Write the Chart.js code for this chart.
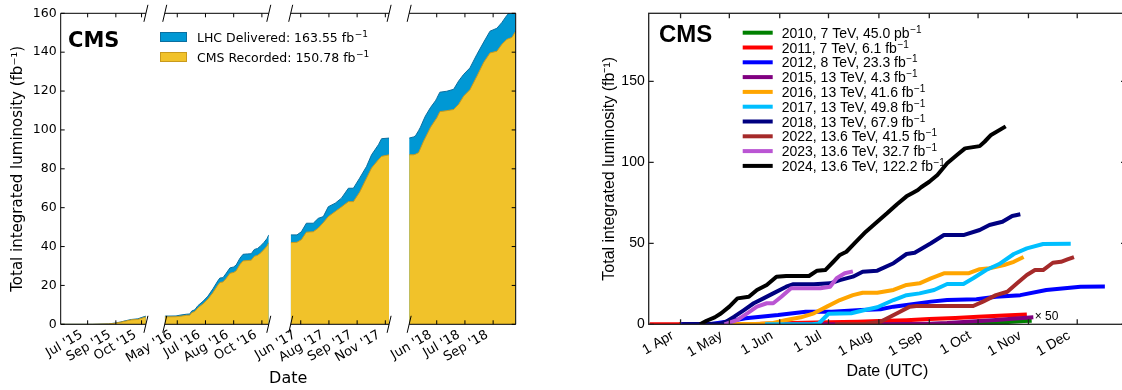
<!DOCTYPE html>
<html lang="en">
<head>
<meta charset="UTF-8" />
<title>CMS integrated luminosity</title>
<script src="https://cdn.jsdelivr.net/npm/chart.js@4.4.1/dist/chart.umd.min.js"></script>
<style>
  html, body { margin: 0; padding: 0; background: #fff; overflow: hidden; }
  #wrap { position: relative; width: 1122px; height: 390px; overflow: hidden; }
  #run2 { position: absolute; left: 0; top: 0; }
  #years { position: absolute; left: 560px; top: 0; }
</style>
</head>
<body>
<div id="wrap">
  <canvas id="run2" width="540" height="390"></canvas>
  <canvas id="years" width="580" height="390"></canvas>
</div>
<script>
// ---------- left panel: Run 2 cumulative (day of year per year segment) ----------
const days2015 = [169, 220, 245, 255, 265, 272, 282, 292, 300, 305];
const delivered2015 = [0, 0, 0.2, 0.6, 1.2, 1.8, 2.5, 2.8, 3.7, 4.2];
const recorded2015 = [0, 0, 0.2, 0.5, 1.1, 1.6, 2.3, 2.5, 3.3, 3.8];

const days2016 = [120, 138, 146, 155, 160, 163, 168, 173, 181, 189, 197, 205, 208, 213, 218, 224, 230, 234, 240, 245, 252, 258, 263, 268, 272, 278, 283, 286];
const delivered2016 = [4.2, 4.3, 4.8, 5.2, 5.3, 6.8, 7.5, 9.6, 11.8, 14.5, 18.3, 22.5, 23.8, 24.0, 26.2, 29.0, 29.5, 30.5, 34.0, 36.0, 36.2, 36.3, 38.5, 39.0, 40.0, 42.0, 44.0, 46.0];
const recorded2016 = [3.8, 3.9, 4.2, 4.6, 4.7, 6.0, 6.6, 8.5, 10.5, 13.0, 16.4, 20.3, 21.5, 21.8, 23.6, 26.2, 26.7, 27.5, 30.8, 32.6, 32.8, 33.0, 35.0, 35.5, 36.4, 38.3, 40.2, 42.0];

const days2017 = [155, 165, 172, 180, 191, 199, 207, 215, 226, 236, 247, 255, 265, 276, 284, 295, 300, 312];
const delivered2017 = [46.0, 46.0, 47.6, 52.0, 52.0, 54.5, 55.4, 60.5, 62.3, 64.9, 70.0, 70.0, 75.2, 81.2, 87.2, 92.4, 95.5, 95.8];
const recorded2017 = [42.0, 42.2, 43.5, 47.4, 47.6, 49.5, 52.3, 55.4, 58.0, 60.4, 63.1, 63.1, 68.0, 75.2, 80.4, 84.7, 86.4, 87.2];

const days2018 = [117, 124, 127, 132, 135, 140, 143, 151, 159, 161, 166, 177, 188, 196, 204, 214, 225, 236, 246, 257, 265, 273, 281, 287];
const delivered2018 = [95.8, 96.4, 96.9, 99.6, 101.4, 105.1, 107.2, 111.5, 115.0, 116.2, 119.4, 119.9, 120.9, 125.2, 128.6, 131.9, 138.8, 145.2, 150.8, 152.3, 155.3, 159.0, 161.5, 163.55];
const recorded2018 = [87.2, 87.2, 87.5, 88.3, 90.5, 94.2, 96.1, 101.3, 105.2, 106.1, 109.4, 109.9, 110.5, 113.2, 117.4, 120.7, 127.6, 134.8, 139.6, 140.5, 144.1, 146.6, 147.6, 150.78];

const tickDays2015 = [212, 257, 298];
const tickLabels2015 = ["Jul '15", "Sep '15", "Oct '15"];
const tickDays2016 = [140, 185, 230, 275];
const tickLabels2016 = ["May '16", "Jul '16", "Aug '16", "Oct '16"];
const tickDays2017 = [171, 216, 261, 306];
const tickLabels2017 = ["Jun '17", "Aug '17", "Sep '17", "Nov '17"];
const tickDays2018 = [161, 206, 251];
const tickLabels2018 = ["Jun '18", "Jul '18", "Sep '18"];

const run2Legend = ['LHC Delivered: 163.55 fb⁻¹', 'CMS Recorded: 150.78 fb⁻¹'];

// ---------- right panel: per-year cumulative delivered (day of year) ----------
const days2010 = [90, 150, 180, 213, 244, 258, 274, 285, 295, 302, 307];
const lumi2010x50 = [0, 0.01, 0.03, 0.1, 0.2, 0.3, 0.45, 0.9, 1.5, 2.0, 2.25]; // already scaled x50
const days2011 = [72, 100, 130, 150, 160, 182, 200, 213, 230, 244, 260, 274, 290, 304];
const lumi2011 = [0, 0, 0.1, 0.5, 0.8, 1.2, 1.6, 2.0, 2.5, 3.2, 3.9, 4.7, 5.5, 6.1];
const days2012 = [91, 110, 119, 131, 151, 168, 184, 202, 214, 222, 230, 245, 255, 273, 285, 300, 316, 337, 352];
const lumi2012 = [0, 0.2, 1.6, 3.7, 5.7, 7.8, 7.8, 8.8, 9.3, 10.9, 11.9, 14.0, 15.0, 15.4, 17.0, 18.0, 21.2, 23.2, 23.3];
const days2015r = [155, 190, 213, 230, 244, 255, 265, 275, 285, 295, 308];
const lumi2015 = [0, 0.05, 0.1, 0.2, 0.4, 0.8, 1.4, 2.0, 2.6, 3.4, 4.3];
const days2016r = [115, 140, 148, 156, 165, 173, 181, 189, 197, 203, 212, 222, 230, 238, 245, 253, 268, 275, 281, 290, 296, 302];
const lumi2016 = [0, 0.3, 0.8, 2.7, 4.3, 6.8, 10.9, 15.0, 18.0, 19.5, 19.5, 21.2, 24.3, 25.3, 28.4, 31.5, 31.5, 34.0, 34.6, 36.6, 38.6, 41.6];
const days2017r = [143, 172, 176, 182, 196, 203, 212, 222, 230, 238, 247, 255, 265, 271, 279, 287, 296, 304, 314, 331];
const lumi2017 = [0, 0, 0.5, 6.5, 6.8, 8.5, 10.5, 15.0, 18.0, 19.1, 21.2, 24.9, 24.9, 28.4, 33.5, 37.2, 43.4, 46.9, 49.6, 49.8];
const days2018r = [92, 115, 119, 124, 130, 136, 142, 148, 156, 160, 173, 183, 189, 197, 203, 212, 222, 230, 235, 245, 253, 265, 275, 281, 289, 295, 300];
const lumi2018 = [0, 0.3, 1.6, 4.7, 8.8, 13.0, 16.0, 19.1, 23.2, 24.7, 24.7, 25.3, 27.3, 29.4, 32.5, 33.1, 37.7, 43.4, 44.2, 50.0, 55.1, 55.1, 58.2, 61.3, 63.3, 66.9, 67.9];
const days2022r = [186, 205, 214, 220, 226, 232, 236, 271, 277, 285, 292, 298, 304, 309, 314, 320, 325, 329, 333];
const lumi2022 = [0, 0.3, 1.6, 4.7, 7.8, 10.9, 11.3, 11.3, 14.0, 18.0, 20.1, 25.3, 30.4, 33.5, 33.5, 38.0, 38.6, 40.1, 41.5];
const days2023r = [118, 126, 132, 138, 144, 148, 153, 159, 177, 183, 187, 192, 197];
const lumi2023 = [0, 2.7, 6.8, 10.9, 13.0, 13.0, 17.0, 22.2, 22.2, 23.2, 28.4, 31.5, 32.7];
const days2024r = [103, 107, 112, 116, 121, 126, 133, 138, 144, 150, 156, 170, 175, 180, 185, 189, 193, 199, 205, 212, 218, 224, 230, 234, 237, 239, 244, 249, 255, 261, 266, 275, 278, 282, 291];
const lumi2024 = [0, 2.2, 4.3, 6.8, 10.9, 16.0, 17.0, 21.2, 24.3, 29.4, 29.8, 29.8, 33.1, 33.5, 38.6, 42.8, 44.8, 51.0, 57.2, 63.3, 68.5, 74.0, 79.0, 81.2, 82.9, 84.6, 88.0, 92.2, 99.4, 104.5, 108.6, 110.0, 112.7, 116.9, 122.2];

const yearLabels = [
  '2010, 7 TeV, 45.0 pb⁻¹', '2011, 7 TeV, 6.1 fb⁻¹', '2012, 8 TeV, 23.3 fb⁻¹',
  '2015, 13 TeV, 4.3 fb⁻¹', '2016, 13 TeV, 41.6 fb⁻¹', '2017, 13 TeV, 49.8 fb⁻¹',
  '2018, 13 TeV, 67.9 fb⁻¹', '2022, 13.6 TeV, 41.5 fb⁻¹', '2023, 13.6 TeV, 32.7 fb⁻¹',
  '2024, 13.6 TeV, 122.2 fb⁻¹'
];
const yearDays = [days2010, days2011, days2012, days2015r, days2016r, days2017r, days2018r, days2022r, days2023r, days2024r];
const yearLumi = [lumi2010x50, lumi2011, lumi2012, lumi2015, lumi2016, lumi2017, lumi2018, lumi2022, lumi2023, lumi2024];
const yearColors = ['#008000', '#ff0000', '#0000ff', '#800080', '#ffa500', '#00bfff', '#000080', '#a52a2a', '#ba55d3', '#000000'];

const monthDays = [91, 121, 152, 182, 213, 244, 274, 305, 335];
const monthLabels = ['1 Apr', '1 May', '1 Jun', '1 Jul', '1 Aug', '1 Sep', '1 Oct', '1 Nov', '1 Dec'];

// ---------- helpers ----------
function toPoints(xs, ys) {
  return xs.map((x, i) => ({ x: x, y: ys[i] }));
}

function drawSup(ctx, text, x, y, size, family, rise) {
  const base = text.replace('⁻¹', '');
  ctx.font = size + 'px ' + family;
  ctx.fillText(base, x, y);
  if (text.indexOf('⁻¹') >= 0) {
    const w = ctx.measureText(base).width;
    ctx.font = Math.round(size * 0.7) + 'px ' + family;
    ctx.fillText('−1', x + w + 0.5, y - rise);
  }
}

const DV = "'DejaVu Sans'";
const LS = "'Liberation Sans'";
const BLUE = '#0098d4', BLUE_EDGE = '#0a6fa0';
const YELLOW = '#f1c22a', YELLOW_EDGE = '#c99a1c';

// ---------- left chart ----------
const segments = [
  { id: 'x2015', days: days2015, del: delivered2015, rec: recorded2015, min: 169, max: 305, ticks: tickDays2015, labels: tickLabels2015 },
  { id: 'x2016', days: days2016, del: delivered2016, rec: recorded2016, min: 120, max: 286, ticks: tickDays2016, labels: tickLabels2016 },
  { id: 'x2017', days: days2017, del: delivered2017, rec: recorded2017, min: 155, max: 312, ticks: tickDays2017, labels: tickLabels2017 },
  { id: 'x2018', days: days2018, del: delivered2018, rec: recorded2018, min: 117, max: 287, ticks: tickDays2018, labels: tickLabels2018 }
];
const gapWeights = [30, 35, 32];

const leftDatasets = [];
segments.forEach(function (s) {
  leftDatasets.push({
    label: 'CMS Recorded', xAxisID: s.id, yAxisID: 'y', order: 1,
    data: toPoints(s.days, s.rec), fill: 'origin',
    backgroundColor: YELLOW, borderColor: YELLOW_EDGE, borderWidth: 1
  });
  leftDatasets.push({
    label: 'LHC Delivered', xAxisID: s.id, yAxisID: 'y', order: 2,
    data: toPoints(s.days, s.del), fill: 'origin',
    backgroundColor: BLUE, borderColor: BLUE_EDGE, borderWidth: 1
  });
});

const leftScales = {
  y: {
    type: 'linear', position: 'left', min: 0, max: 160,
    ticks: { stepSize: 20, color: '#000', font: { family: DV, size: 12.5 }, padding: 4 },
    grid: { display: false, drawTicks: false },
    border: { display: false },
    title: { display: true, text: 'Total integrated luminosity (fb⁻¹)', color: '#000',
             font: { family: DV, size: 15 }, padding: { top: 9, bottom: 0 } },
    afterFit: function (s) { s.width = 60.7; }
  }
};
segments.forEach(function (s, i) {
  leftScales[s.id] = {
    type: 'linear', axis: 'x', position: 'bottom', stack: 'run2', stackWeight: s.max - s.min,
    min: s.min, max: s.max,
    afterBuildTicks: function (sc) { sc.ticks = s.ticks.map(function (v) { return { value: v }; }); },
    ticks: { autoSkip: false, minRotation: 30, maxRotation: 30, padding: 3, labelOffset: -6,
             color: '#000', font: { family: DV, size: 13 },
             callback: function (v, idx) { return s.labels[idx]; } },
    grid: { display: false, drawTicks: false },
    border: { display: false },
    afterFit: function (sc) { sc.height = 65.7; }
  };
  if (i < gapWeights.length) {
    leftScales['xgap' + i] = {
      type: 'linear', axis: 'x', position: 'bottom', stack: 'run2', stackWeight: gapWeights[i],
      min: 0, max: 1,
      ticks: { display: false },
      grid: { display: false, drawTicks: false },
      border: { display: false },
      afterFit: function (sc) { sc.height = 65.7; }
    };
  }
});

const brokenFrame = {
  id: 'brokenFrame',
  afterDraw: function (chart) {
    const ctx = chart.ctx, a = chart.chartArea, y = chart.scales.y;
    ctx.save();
    ctx.strokeStyle = '#000';
    ctx.lineWidth = 1;
    ctx.beginPath();
    ctx.moveTo(a.left, a.top); ctx.lineTo(a.left, a.bottom);
    ctx.moveTo(a.right, a.top); ctx.lineTo(a.right, a.bottom);
    y.ticks.forEach(function (t) {
      const py = y.getPixelForValue(t.value);
      ctx.moveTo(a.left, py); ctx.lineTo(a.left + 4, py);
      ctx.moveTo(a.right, py); ctx.lineTo(a.right - 4, py);
    });
    segments.forEach(function (s, i) {
      const sc = chart.scales[s.id];
      ctx.moveTo(sc.left, a.top); ctx.lineTo(sc.right, a.top);
      ctx.moveTo(sc.left, a.bottom); ctx.lineTo(sc.right, a.bottom);
      s.ticks.forEach(function (v) {
        const px = sc.getPixelForValue(v);
        ctx.moveTo(px, a.bottom); ctx.lineTo(px, a.bottom - 4);
        ctx.moveTo(px, a.top); ctx.lineTo(px, a.top + 4);
      });
      const ends = [];
      if (i > 0) ends.push(sc.left);
      if (i < segments.length - 1) ends.push(sc.right);
      ends.forEach(function (ex) {
        [a.top, a.bottom].forEach(function (ey) {
          ctx.moveTo(ex - 2, ey + 8.5); ctx.lineTo(ex + 2, ey - 8.5);
        });
      });
    });
    ctx.stroke();

    ctx.fillStyle = '#000';
    ctx.textBaseline = 'alphabetic';
    ctx.textAlign = 'left';
    ctx.font = 'bold 21px ' + DV;
    ctx.fillText('CMS', 68, 47);

    const boxes = [[BLUE, BLUE_EDGE], [YELLOW, YELLOW_EDGE]];
    run2Legend.forEach(function (txt, i) {
      const top = 32 + i * 20;
      ctx.fillStyle = boxes[i][0];
      ctx.fillRect(160, top, 27, 10);
      ctx.strokeStyle = boxes[i][1];
      ctx.strokeRect(160.5, top + 0.5, 26, 9);
      ctx.fillStyle = '#000';
      drawSup(ctx, txt, 197, top + 9.5, 12.5, DV, 5);
    });

    ctx.font = '16px ' + DV;
    ctx.textAlign = 'center';
    ctx.textBaseline = 'middle';
    ctx.fillText('Date', (a.left + a.right) / 2, 379);
    ctx.restore();
  }
};

new Chart(document.getElementById('run2'), {
  type: 'line',
  data: { datasets: leftDatasets },
  options: {
    responsive: false,
    animation: false,
    layout: { padding: { left: 0, right: 24.3, top: 13.3, bottom: 0 } },
    elements: { point: { radius: 0 }, line: { tension: 0 } },
    plugins: { legend: { display: false }, tooltip: { enabled: false } },
    scales: leftScales
  },
  plugins: [brokenFrame]
});

// ---------- right chart ----------
const rightDatasets = yearLabels.map(function (label, i) {
  return {
    label: label,
    data: toPoints(yearDays[i], yearLumi[i]),
    borderColor: yearColors[i],
    backgroundColor: yearColors[i],
    borderWidth: 4,
    borderJoinStyle: 'round',
    borderCapStyle: 'butt',
    fill: false,
    clip: 0,
    order: yearLabels.length - i
  };
});

const yearsFrame = {
  id: 'yearsFrame',
  afterDraw: function (chart) {
    const ctx = chart.ctx, a = chart.chartArea, x = chart.scales.x, y = chart.scales.y;
    ctx.save();
    ctx.strokeStyle = '#222';
    ctx.lineWidth = 1.3;
    ctx.strokeRect(a.left, a.top, a.right - a.left, a.bottom - a.top);
    ctx.beginPath();
    x.ticks.forEach(function (t) {
      const px = x.getPixelForValue(t.value);
      ctx.moveTo(px, a.bottom); ctx.lineTo(px, a.bottom - 5);
      ctx.moveTo(px, a.top); ctx.lineTo(px, a.top + 5);
    });
    y.ticks.forEach(function (t) {
      const py = y.getPixelForValue(t.value);
      ctx.moveTo(a.left, py); ctx.lineTo(a.left + 5, py);
      ctx.moveTo(a.right, py); ctx.lineTo(a.right - 5, py);
    });
    ctx.stroke();

    ctx.fillStyle = '#000';
    ctx.textAlign = 'left';
    ctx.textBaseline = 'alphabetic';
    ctx.font = 'bold 24px ' + LS;
    ctx.fillText('CMS', 99, 42);

    yearLabels.forEach(function (txt, i) {
      const cy = 32.7 + i * 14.8;
      ctx.strokeStyle = yearColors[i];
      ctx.lineWidth = 4;
      ctx.beginPath();
      ctx.moveTo(182.7, cy); ctx.lineTo(212.7, cy);
      ctx.stroke();
      ctx.fillStyle = '#000';
      drawSup(ctx, txt, 221.7, cy + 5, 14, LS, 5);
    });

    const meta = chart.getDatasetMeta(0);
    const last = meta.data[meta.data.length - 1];
    ctx.font = '12px ' + LS;
    ctx.textBaseline = 'middle';
    ctx.fillStyle = '#000';
    ctx.fillText('× 50', last.x + 3, last.y - 4);
    ctx.restore();
  }
};

new Chart(document.getElementById('years'), {
  type: 'line',
  data: { datasets: rightDatasets },
  options: {
    responsive: false,
    animation: false,
    layout: { padding: { left: 40, right: 14, top: 13.3, bottom: 0 } },
    elements: { point: { radius: 0 }, line: { tension: 0 } },
    plugins: { legend: { display: false }, tooltip: { enabled: false } },
    scales: {
      x: {
        type: 'linear', position: 'bottom', min: 71.4, max: 365,
        afterBuildTicks: function (sc) { sc.ticks = monthDays.map(function (v) { return { value: v }; }); },
        ticks: { autoSkip: false, minRotation: 30, maxRotation: 30, padding: 3, labelOffset: -8,
                 color: '#000', font: { family: LS, size: 14 },
                 callback: function (v, idx) { return monthLabels[idx]; } },
        grid: { display: false, drawTicks: false },
        border: { display: false },
        title: { display: true, text: 'Date (UTC)', color: '#000', font: { family: LS, size: 16 },
                 padding: { top: 0, bottom: 8.4 } },
        afterFit: function (sc) { sc.height = 65.7; }
      },
      y: {
        type: 'linear', position: 'left', min: 0, max: 192,
        ticks: { stepSize: 50, includeBounds: false, color: '#000', font: { family: LS, size: 14 }, padding: 4 },
        grid: { display: false, drawTicks: false },
        border: { display: false },
        title: { display: true, text: 'Total integrated luminosity (fb⁻¹)', color: '#000',
                 font: { family: LS, size: 16 }, padding: { top: 0.4, bottom: 0 } },
        afterFit: function (sc) { sc.width = 48.7; }
      }
    }
  },
  plugins: [yearsFrame]
});
</script>
</body>
</html>
